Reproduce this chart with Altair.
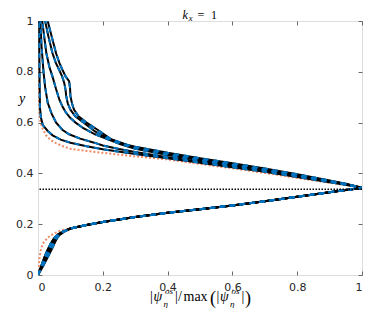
import altair as alt
import pandas as pd

# ---------------- data ----------------
TICKS = [0, 0.2, 0.4, 0.6, 0.8, 1]
HLINE_Y = [0.338]

# shared lower branch (x from 0.1 up to the peak at x = 1)
LOWER_TAIL_X = [0.1, 0.15, 0.2, 0.3, 0.4, 0.5, 0.6, 0.7, 0.8, 0.9, 0.95, 1.0]
LOWER_TAIL_Y = [0.183, 0.197, 0.209, 0.228, 0.245, 0.259, 0.274, 0.290, 0.308, 0.326, 0.335, 0.343]

# feet near the wall (y < 0.18)
FOOT_Y = [0.0, 0.035, 0.07, 0.10, 0.125, 0.145, 0.158, 0.17]
FOOT_A_X = [0.0, 0.010, 0.020, 0.030, 0.040, 0.050, 0.060, 0.075]
FOOT_B_X = [0.0, 0.013, 0.025, 0.036, 0.046, 0.055, 0.063, 0.078]
FOOT_C_X = [0.0, 0.016, 0.030, 0.042, 0.051, 0.059, 0.067, 0.080]

ORANGE_FOOT_X = [0.0, 0.002, 0.004, 0.008, 0.015, 0.030, 0.048, 0.070]
ORANGE_FOOT_Y = [0.0, 0.030, 0.060, 0.095, 0.124, 0.147, 0.163, 0.175]
ORANGE_UP_X = [0.95, 0.9, 0.8, 0.7, 0.6, 0.5, 0.4, 0.3, 0.2, 0.15, 0.1, 0.075, 0.05, 0.036,
               0.025, 0.015, 0.008, 0.005, 0.003, 0.002, 0.0015]
ORANGE_UP_Y = [0.354, 0.363, 0.382, 0.402, 0.420, 0.437, 0.455, 0.467, 0.481, 0.488, 0.497,
               0.508, 0.522, 0.535, 0.550, 0.574, 0.600, 0.630, 0.700, 0.850, 1.0]

C1_UP_X = [0.95, 0.9, 0.8, 0.7, 0.6, 0.5, 0.4, 0.3, 0.2, 0.15, 0.1, 0.07, 0.045, 0.03, 0.015,
           0.009, 0.006, 0.005, 0.004, 0.004]
C1_UP_Y = [0.355, 0.365, 0.386, 0.406, 0.424, 0.442, 0.460, 0.476, 0.495, 0.507, 0.521, 0.533,
           0.550, 0.567, 0.590, 0.620, 0.660, 0.750, 0.900, 1.0]

C2_UP_X = [0.95, 0.9, 0.8, 0.7, 0.6, 0.5, 0.4, 0.3, 0.25, 0.2, 0.176, 0.13, 0.096, 0.075, 0.056,
           0.042, 0.03, 0.022, 0.017, 0.011, 0.007]
C2_UP_Y = [0.356, 0.367, 0.389, 0.409, 0.428, 0.446, 0.464, 0.484, 0.496, 0.510, 0.520, 0.537,
           0.554, 0.572, 0.600, 0.635, 0.678, 0.740, 0.800, 0.900, 1.0]

C3_UP_X = [0.95, 0.9, 0.8, 0.7, 0.6, 0.5, 0.4, 0.3, 0.255, 0.21, 0.176, 0.14, 0.116, 0.1, 0.086,
           0.076, 0.066, 0.055, 0.045, 0.035, 0.026, 0.02, 0.013]
C3_UP_Y = [0.357, 0.369, 0.392, 0.413, 0.433, 0.452, 0.472, 0.497, 0.515, 0.537, 0.554, 0.578,
           0.600, 0.618, 0.640, 0.662, 0.690, 0.735, 0.780, 0.820, 0.872, 0.930, 1.0]

C4_UP_X = [0.95, 0.9, 0.8, 0.7, 0.6, 0.5, 0.4, 0.3, 0.25, 0.21, 0.176, 0.141, 0.115, 0.1, 0.092,
           0.087, 0.085, 0.081, 0.075, 0.066, 0.055, 0.045, 0.032, 0.022]
C4_UP_Y = [0.358, 0.370, 0.394, 0.416, 0.436, 0.456, 0.477, 0.502, 0.522, 0.542, 0.565, 0.600,
           0.625, 0.651, 0.675, 0.705, 0.730, 0.756, 0.780, 0.806, 0.835, 0.872, 0.940, 1.0]

C5_UP_X = [0.95, 0.9, 0.8, 0.7, 0.6, 0.5, 0.4, 0.3, 0.276, 0.225, 0.186, 0.15, 0.125, 0.111,
           0.105, 0.1, 0.099, 0.096, 0.086, 0.076, 0.066, 0.056, 0.042, 0.03]
C5_UP_Y = [0.359, 0.372, 0.397, 0.419, 0.440, 0.460, 0.481, 0.505, 0.512, 0.535, 0.570, 0.600,
           0.625, 0.651, 0.675, 0.705, 0.735, 0.763, 0.780, 0.806, 0.835, 0.872, 0.940, 1.0]

BLACK_CURVES = [
    ("c1", FOOT_A_X, C1_UP_X, C1_UP_Y),
    ("c2", FOOT_B_X, C2_UP_X, C2_UP_Y),
    ("c3", FOOT_C_X, C3_UP_X, C3_UP_Y),
    ("c4", FOOT_B_X, C4_UP_X, C4_UP_Y),
    ("c5", FOOT_A_X, C5_UP_X, C5_UP_Y),
]

rows = []
for name, fx, ux, uy in BLACK_CURVES:
    xs = list(fx) + LOWER_TAIL_X + list(ux)
    ys = FOOT_Y + LOWER_TAIL_Y + list(uy)
    for i, (a, b) in enumerate(zip(xs, ys)):
        rows.append({"curve": name, "i": i, "x": a, "y": b})
black_df = pd.DataFrame(rows)

oxs = ORANGE_FOOT_X + LOWER_TAIL_X + ORANGE_UP_X
oys = ORANGE_FOOT_Y + LOWER_TAIL_Y + ORANGE_UP_Y
orange_df = pd.DataFrame({"curve": "ref", "i": range(len(oxs)), "x": oxs, "y": oys})
hline_df = pd.DataFrame({"y": HLINE_Y})

# layout: page margin 8 px; total chart must be <= 358 x 300
PAD_L, PAD_T, PAD_R, PAD_B = 30, 13, 4, 33
W, H = 324, 254
X0, Y0 = 8 + PAD_L, 8 + PAD_T   # page position of plot area's top-left corner
CX = X0 + W / 2                 # page x of plot-area centre

xsc = alt.Scale(domain=[0, 1], nice=False, zero=False)
ysc = alt.Scale(domain=[0, 1], nice=False, zero=False)

LABEL_FONT = "DejaVu Sans"
TICK_COLOR = "#6a6a6a"

main_x_axis = alt.Axis(values=TICKS, format="~g", tickSize=0, domain=False, grid=False,
                       labelFont=LABEL_FONT, labelFontSize=11, labelColor="#262626",
                       labelPadding=6, title=None)
main_y_axis = alt.Axis(values=TICKS, format="~g", tickSize=0, domain=False, grid=False,
                       labelFont=LABEL_FONT, labelFontSize=11, labelColor="#262626",
                       labelPadding=5, title=None)

def tick_axis(orient, offset):
    return alt.Axis(orient=orient, offset=offset, values=TICKS, labels=False, tickSize=4,
                    tickColor=TICK_COLOR, tickWidth=1, domain=False, grid=False, title=None)

orange = alt.Chart(orange_df).mark_line(
    color="#EE8A66", strokeWidth=2, strokeDash=[2, 2], clip=True
).encode(
    x=alt.X("x:Q", scale=xsc, axis=main_x_axis),
    y=alt.Y("y:Q", scale=ysc, axis=main_y_axis),
    order="i:Q",
    detail="curve:N",
)

black = alt.Chart(black_df).mark_line(color="#000000", strokeWidth=2, clip=True).encode(
    x=alt.X("x:Q", scale=xsc, axis=tick_axis("top", -H)),
    y=alt.Y("y:Q", scale=ysc, axis=tick_axis("right", -W)),
    order="i:Q",
    detail="curve:N",
)

blue = alt.Chart(black_df).mark_line(
    color="#0072BD", strokeWidth=2, strokeDash=[5, 5], clip=True
).encode(
    x=alt.X("x:Q", scale=xsc, axis=tick_axis("bottom", -H)),
    y=alt.Y("y:Q", scale=ysc, axis=tick_axis("left", -W)),
    order="i:Q",
    detail="curve:N",
)

hline = alt.Chart(hline_df).mark_rule(color="#000000", strokeWidth=1.5, strokeDash=[1.5, 1.5]).encode(
    y=alt.Y("y:Q", scale=ysc, axis=None)
)


def txt(s, px, py, size, style="normal", font="Liberation Serif", align="left", baseline="alphabetic"):
    # px, py are page coordinates; converted to plot-area coordinates
    return alt.Chart(alt.Data(values=[{"k": 0}])).mark_text(
        text=s, fontSize=size, fontStyle=style, font=font, align=align, baseline=baseline,
        color="#000000"
    ).encode(x=alt.value(px - X0), y=alt.value(py - Y0))

labels = []
# title  k_x = 1  (centred on the plot area)
tx = CX - 17.5
labels.append(txt("k", tx, 18.5, 12, "italic"))
labels.append(txt("x", tx + 6.3, 20.5, 8.5, "italic"))
labels.append(txt("=", tx + 15, 18.5, 12))
labels.append(txt("1", tx + 28.5, 18.5, 12))
# y label
labels.append(txt("y", 22, 99, 14, "italic", align="center", baseline="middle"))
# x label  |psi_eta^os| / max(|psi_eta^os|)
s = CX - 50
labels.append(txt("|", s, 301, 14))
labels.append(txt("ψ", s + 3.5, 301, 14, "italic"))
labels.append(txt("os", s + 15, 293.5, 9, "italic"))
labels.append(txt("η", s + 13.5, 306.5, 9, "italic"))
labels.append(txt("|", s + 25, 301, 14))
labels.append(txt("/", s + 28, 301, 14))
labels.append(txt("max", s + 33.5, 301, 14))
labels.append(txt("(", s + 60, 304, 18))
labels.append(txt("|", s + 66.5, 301, 14))
labels.append(txt("ψ", s + 70, 301, 14, "italic"))
labels.append(txt("os", s + 81.5, 293.5, 9, "italic"))
labels.append(txt("η", s + 80, 306.5, 9, "italic"))
labels.append(txt("|", s + 91.5, 301, 14))
labels.append(txt(")", s + 95, 304, 18))

chart = alt.layer(orange, black, blue, hline, *labels).resolve_axis(
    x="independent", y="independent"
).properties(
    width=W, height=H,
    autosize=alt.AutoSizeParams(type="none"),
    padding={"left": PAD_L, "top": PAD_T, "right": PAD_R, "bottom": PAD_B},
).configure_view(
    stroke="#7a7a7a", strokeWidth=1
).configure(background="white")

chart.save("out.html", embed_options={"renderer": "svg", "actions": False})
